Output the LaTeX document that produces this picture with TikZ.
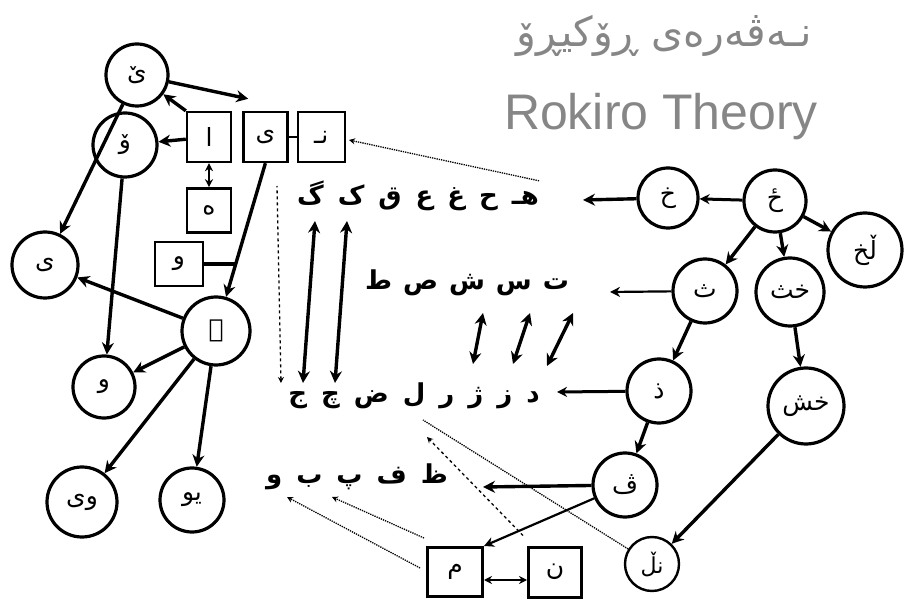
\documentclass[tikz,border=0pt]{standalone}
\usepackage{fontspec}
\setmainfont{Liberation Sans}
\newfontfamily\arabicfont[Script=Arabic]{DejaVu Sans}
\TeXXeTstate=1
\usetikzlibrary{arrows.meta, positioning}
\newcommand{\kurd}[1]{{\arabicfont\beginR #1\endR}}
\newcommand{\letters}[2][14pt]{{\arabicfont\bfseries\spaceskip=#1\relax\beginR #2\endR}}

\begin{document}
\begin{tikzpicture}[
    x=1pt, y=-1pt,
    letter/.style={circle, draw, line width=3.2pt, minimum size=62pt, inner sep=0pt, font=\fontsize{25}{25}\selectfont},
    lbox/.style={rectangle, draw, line width=2.4pt, minimum width=44pt, minimum height=50pt, inner sep=0pt, font=\fontsize{25}{25}\selectfont},
    sqbox/.style={lbox, minimum height=44pt},
    lrow/.style={inner sep=0pt, font=\fontsize{26}{26}\selectfont},
    titletext/.style={text=gray!95, inner sep=0pt},
    link/.style={line width=3.4pt, -{Stealth[length=12pt, width=12pt]}},
    thinlink/.style={line width=2.2pt, -{Stealth[length=10pt, width=10pt]}},
    twoway/.style={line width=3.4pt, {Stealth[length=12pt, width=12pt]}-{Stealth[length=12pt, width=12pt]}},
    twowaythin/.style={line width=1.6pt, {Stealth[length=8pt, width=8pt]}-{Stealth[length=8pt, width=8pt]}},
    hint/.style={line width=1.3pt, densely dotted, -{Stealth[length=6pt, width=6pt]}},
    dashhint/.style={line width=1.3pt, dashed, -{Stealth[length=6pt, width=6pt]}}
]
\useasboundingbox (0,0) rectangle (908,609);

% Title
\node[titletext, font=\fontsize{41}{41}\selectfont] (titleku) at (664,36) {\kurd{نـەڤەرەی ڕۆکیڕۆ}};
\node[titletext, font=\fontsize{50}{50}\selectfont] (titleen) at (661,117) {Rokiro Theory};

% Left tree
\node[letter] (yeh) at (137,75) {\kurd{ێ}};
\node[letter, minimum size=64pt] (oo) at (125,145) {\kurd{ۆ}};
\node[letter, minimum size=66pt] (yee) at (45,265) {\kurd{ی}};
\node[lbox] (alef) at (209,137) {\kurd{ا}};
\node[lbox, right=10pt of alef] (ye) {\kurd{ی}};
\node[lbox, right=8pt of ye, minimum width=47pt] (nun) {\kurd{نـ}};
\node[sqbox, below=24pt of alef] (heh) {\kurd{ه}};
\node[sqbox, minimum width=48pt] (waw) at (179,264) {\kurd{و}};
\node[letter, minimum size=68pt] (wq) at (216,331) {\kurd{ۊ}};
\node[letter] (wawc) at (104,387) {\kurd{و}};
\node[letter, minimum size=70pt] (wy) at (82,502) {\kurd{وی}};
\node[letter, minimum size=64pt] (yw) at (192,500) {\kurd{یو}};

% Letter rows
\node[lrow] (row1) at (418,196) {\letters{هـ ح غ ع ق ک گ}};
\node[lrow] (row2) at (467,283) {\letters[11pt]{ت س ش ص ط}};
\node[lrow] (row3) at (414,396) {\letters{د ز ژ ر ل ض چ ج}};
\node[lrow] (row4) at (357,477) {\letters{ظ ف پ ب و}};

\coordinate (r1in) at (583,200);
\coordinate (r2in) at (610,292);
\coordinate (r3in) at (557,392);
\coordinate (r4in) at (483,487);

% Right tree
\node[letter] (hha) at (775,201) {\kurd{ځ}};
\node[letter, minimum size=60pt] (kha) at (668,198) {\kurd{خ}};
\node[letter, minimum size=74pt] (lkha) at (865,250) {\kurd{ڵخ}};
\node[letter, minimum size=64pt] (tha) at (705,291) {\kurd{ث}};
\node[letter, minimum size=68pt] (khth) at (790,292) {\kurd{خث}};
\node[letter, minimum size=64pt] (dhal) at (659,391) {\kurd{ذ}};
\node[letter, minimum size=76pt] (khsh) at (806,406) {\kurd{خش}};
\node[letter, minimum size=64pt] (veh) at (625,485) {\kurd{ڤ}};
\node[letter, minimum size=54pt, line width=2.4pt, font=\fontsize{22}{22}\selectfont] (nl) at (652,564) {\kurd{نڵ}};

% Bottom boxes
\node[lbox, line width=3pt, minimum width=55pt, minimum height=49pt] (mim) at (455,572) {\kurd{م}};
\node[lbox, line width=3pt, minimum width=53pt, right=43pt of mim] (nun2) {\kurd{ن}};

% Left tree arrows
\draw[link] (yeh) -- ([shift={(6,-12)}]ye.north west);
\draw[link] (alef.north west) -- (yeh);
\draw[link] (alef) -- (oo);
\draw[link] (yeh) -- (yee);
\draw[twowaythin, line width=2.4pt] (alef) -- (heh);
\draw[line width=2.4pt] (ye) -- (nun);
\draw[link] (ye.south) -- coordinate[pos=0.75] (wjoin) (wq);
\draw[line width=3.4pt] (waw.east) -- (waw.east -| wjoin);
\draw[link] (oo) -- (wawc);
\draw[link] (wq) -- (yee);
\draw[link] (wq) -- (wawc);
\draw[link] (wq) -- (wy);
\draw[link] (wq) -- (yw);

% Between the rows
\coordinate (gaf) at (315,221);
\coordinate (jim) at (303,383);
\coordinate (kaf) at (347,221);
\coordinate (che) at (335,383);
\draw[twoway] (gaf) -- (jim);
\draw[twoway] (kaf) -- (che);

\coordinate (shin) at (483,313);
\coordinate (zhe) at (473,364);
\coordinate (sin) at (530,313);
\coordinate (ze) at (513,364);
\coordinate (te) at (573,313);
\coordinate (dal) at (547,366);
\draw[twoway] (shin) -- (zhe);
\draw[twoway] (sin) -- (ze);
\draw[twoway] (te) -- (dal);

\coordinate (r1left) at (277,186);
\coordinate (r3left) at (281,383);
\draw[dashhint, {Stealth[length=6pt, width=6pt]}-] (r3left) -- (r1left);

% Right tree arrows
\draw[thinlink, line width=3pt] (hha) -- (kha);
\draw[link] (kha) -- (r1in);
\draw[link] (hha) -- (lkha);
\draw[link] (hha) -- (tha);
\draw[link] (hha) -- (khth);
\draw[thinlink] (tha) -- (r2in);
\draw[thinlink, line width=3pt] (dhal) -- (r3in);
\draw[link] (tha) -- (dhal);
\draw[link] (khth) -- (khsh);
\draw[link] (dhal) -- (veh);
\draw[link] (khsh) -- (nl);
\draw[link] (veh) -- (r4in);
\draw[thinlink] (veh) -- (mim.north east);

% Bottom links
\coordinate (pe) at (332,497);
\coordinate (wawrow) at (287,497);
\coordinate (r3low) at (427,437);
\coordinate (r3mid) at (423,420);
\draw[twowaythin] ([shift={(0,8)}]mim.east) -- ([shift={(0,8)}]nun2.west);
\draw[hint] ([shift={(-2,-8)}]mim.north west) -- (pe);
\draw[hint] ([shift={(-6,-4)}]mim.west) -- (wawrow);
\draw[dashhint] ([shift={(-4,-10)}]nun2.north west) -- (r3low);
\draw[line width=1.3pt, densely dotted] (nl) -- (r3mid);
\draw[hint] (row1.north east) -- ([shift={(3,3)}]nun.east);
\end{tikzpicture}
\end{document}
